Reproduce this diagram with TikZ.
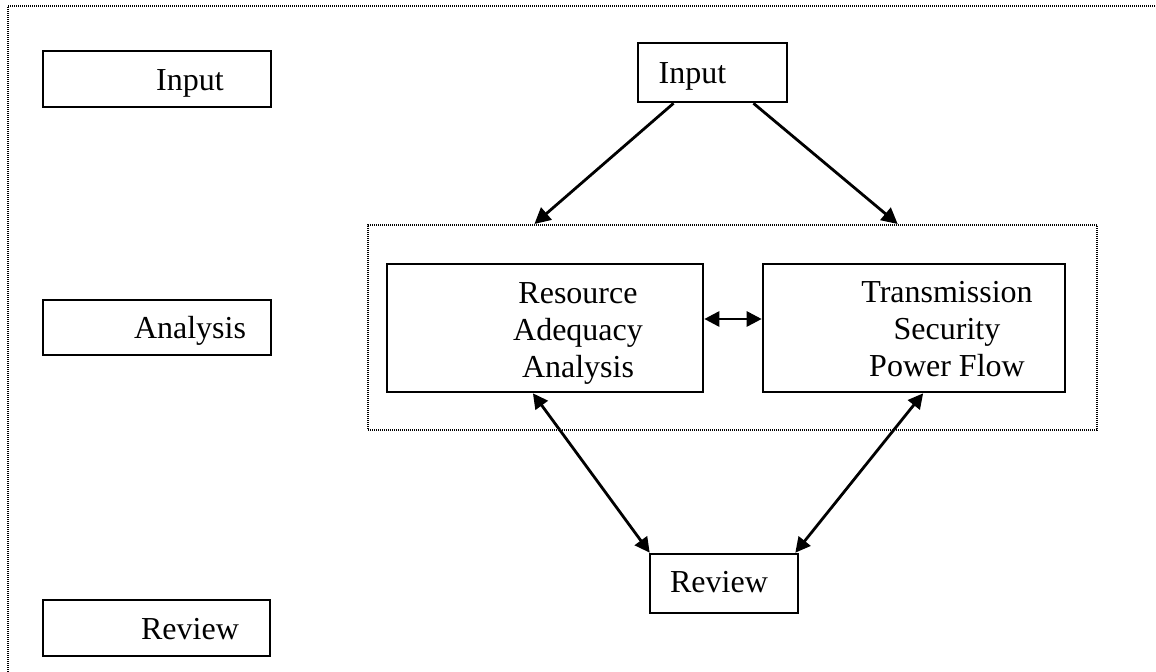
\documentclass[tikz,border=0pt]{standalone}
\usepackage{fontspec}
\setmainfont{Liberation Serif}
\usetikzlibrary{arrows.meta,calc,fit}

\begin{document}
\begin{tikzpicture}[x=0.5pt,y=-0.5pt]
        \tikzstyle{box}=[draw, line width=1.3pt, inner sep=0pt]
        \tikzstyle{txt}=[inner sep=0pt, align=center, font=\fontsize{16pt}{18.5pt}\selectfont]
        \tikzstyle{dots}=[line width=1pt, dash pattern=on 0.5pt off 0.5pt]
        \tikzstyle{arr}=[line width=1.4pt, -{Triangle[length=8pt,width=8pt]}]
        \tikzstyle{darr}=[line width=1.4pt, {Triangle[length=7.5pt,width=7.5pt]}-{Triangle[length=7.5pt,width=7.5pt]}]
        \useasboundingbox (0,0) rectangle (1156,672);
        % frame
        \draw[dots] (8,672) -- (8,6) -- (1156,6);
        % legend column
        \node[box, minimum width=114pt, minimum height=28pt] (lin) at (157,79) {};
        \node[txt, anchor=base] (lintxt) at (190,91) {Input};
        \node[box, minimum width=114pt, minimum height=27.5pt] (lan) at (157,327.5) {};
        \node[txt, anchor=base] (lantxt) at (190,339) {Analysis};
        \node[box, minimum width=113.5pt, minimum height=28pt] (lrv) at (156.5,628) {};
        \node[txt, anchor=base] (lrvtxt) at (190,640) {Review};
        % flow
        \node[box, minimum width=74.5pt, minimum height=29.5pt] (in) at (712.5,72.5) {};
        \node[txt, anchor=base] (intxt) at (692.5,84) {Input};
        \node[dots, draw, inner sep=0pt, fit={(368,225) (1097,430)}] (grp) {};
        \node[box, minimum width=158pt, minimum height=64pt] (ra) at (545,328) {};
        \node[txt] (ratxt) at (578,333) {Resource\\Adequacy\\Analysis};
        \node[box, minimum width=151pt, minimum height=64pt] (ts) at (914,328) {};
        \node[txt] (tstxt) at (947,329) {Transmission\\Security\\Power Flow};
        \node[box, minimum width=74pt, minimum height=29.5pt] (rv) at (724,583.5) {};
        \node[txt, anchor=base] (rvtxt) at (719,593) {Review};
        % connectors
        \draw[arr] ($(in.south west)!0.243!(in.south east)$) -- ($(grp.north west)!0.229!(grp.north east)$);
        \draw[arr] ($(in.south west)!0.77!(in.south east)$) -- ($(grp.north west)!0.726!(grp.north east)$);
        \draw[darr] (ra.east |- 0,319) -- (ts.west |- 0,319);
        \draw[darr] ($(ra.south west)!0.462!(ra.south east)$) -- ([xshift=0.5pt]rv.north west);
        \draw[darr] ($(ts.south west)!0.53!(ts.south east)$) -- ([xshift=-2pt]rv.north east);
\end{tikzpicture}
\end{document}
